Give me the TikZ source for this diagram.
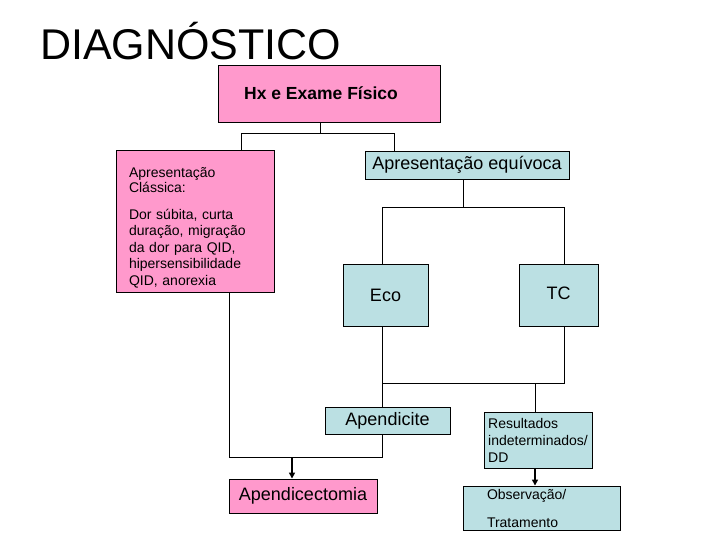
\documentclass[tikz,border=0pt]{standalone}
\usepackage{fontspec}
\setmainfont{Liberation Sans}
\setsansfont{Liberation Sans}
\usepackage{tikz}
\usetikzlibrary{positioning,arrows.meta}
\definecolor{rosa}{HTML}{FF99CC}
\definecolor{azul}{HTML}{BBE0E3}
\definecolor{ink}{HTML}{000000}

\begin{document}
\begin{tikzpicture}[
  x=1pt, y=-1pt,
  font=\sffamily,
  caixa/.style={draw=ink, line width=0.9pt, inner sep=0pt, align=center},
  rosabox/.style={caixa, fill=rosa},
  azulbox/.style={caixa, fill=azul},
  grande/.style={font=\sffamily\fontsize{18}{21}\selectfont},
  pequeno/.style={font=\sffamily\fontsize{14}{17}\selectfont},
  liga/.style={draw=ink, line width=0.9pt},
  seta/.style={-{Triangle[length=6pt,width=6pt]}, line width=1.6pt, draw=ink}
]
  \useasboundingbox (0,0) rectangle (720,540);
  \node[anchor=base west, inner sep=0pt, font=\sffamily\fontsize{43}{48}\selectfont] (titulo) at (40,60) {DIAGNÓSTICO};

  % caixas
  \node[rosabox, minimum width=222, minimum height=57, font=\sffamily\bfseries\fontsize{17.5}{20}\selectfont] (hx) at (329,93.5) {Hx e Exame Físico\hspace{16pt}};
  \node[rosabox, font=\sffamily\fontsize{14}{16.5}\selectfont, minimum width=158, minimum height=142, text width=132, inner xsep=13, align=left] (classica) at (195,221)
    {\rule{0pt}{23pt}Apresentação\\[-1.5pt]Clássica:\\[10.5pt]Dor súbita, curta\\duração, migração\\da dor para QID,\\hipersensibilidade\\QID, anorexia};
  \node[azulbox, grande, minimum width=204, minimum height=28] (equivoca) at (467,165) {Apresentação equívoca};
  \node[azulbox, grande, minimum width=85, minimum height=62] (eco) at (385.5,295) {Eco};
  \node[azulbox, grande, minimum width=79, minimum height=62] (tc) at (558.5,295) {\raisebox{4pt}{TC}};
  \node[azulbox, grande, minimum width=125, minimum height=27] (apendicite) at (387.5,420.5) {Apendicite};
  \node[azulbox, pequeno, minimum width=108, minimum height=56, align=left] (resultados) at (538,440)
    {Resultados\\indeterminados/\\DD};
  \node[azulbox, pequeno, minimum width=157, minimum height=44, text width=109, inner xsep=24, align=left] (observacao) at (541.5,508)
    {Observação/\\[11pt]Tratamento};
  \node[rosabox, grande, minimum width=148, minimum height=34] (apendicectomia) at (303,496) {Apendicectomia};

  % pontos de junção
  \coordinate (t0) at (320,133);
  \coordinate (tL) at (241,133);
  \coordinate (tR) at (394,133);
  \coordinate (m0) at (463,207);
  \coordinate (mL) at (382,207);
  \coordinate (mR) at (564,207);
  \coordinate (nL) at (382,383);
  \coordinate (nR) at (564,383);
  \coordinate (n1) at (535,383);
  \coordinate (bL) at (229,457);
  \coordinate (bR) at (382,457);
  \coordinate (b1) at (292,457);

  % ligações
  \draw[liga] (hx.south -| t0) -- (t0);
  \draw[liga] (classica.north -| tL) -- (tL) -- (tR) -- (equivoca.north -| tR);
  \draw[liga] (equivoca.south -| m0) -- (m0);
  \draw[liga] (eco.north -| mL) -- (mL) -- (mR) -- (tc.north -| mR);
  \draw[liga] (eco.south -| nL) -- (nL) -- (nR) -- (tc.south -| nR);
  \draw[liga] (nL) -- (apendicite.north -| nL);
  \draw[liga] (n1) -- (resultados.north -| n1);
  \draw[liga] (classica.south -| bL) -- (bL) -- (bR) -- (apendicite.south -| bR);
  \draw[seta] (b1) -- (apendicectomia.north -| b1);
  \draw[seta] (resultados.south -| n1) -- (observacao.north -| n1);
\end{tikzpicture}
\end{document}
